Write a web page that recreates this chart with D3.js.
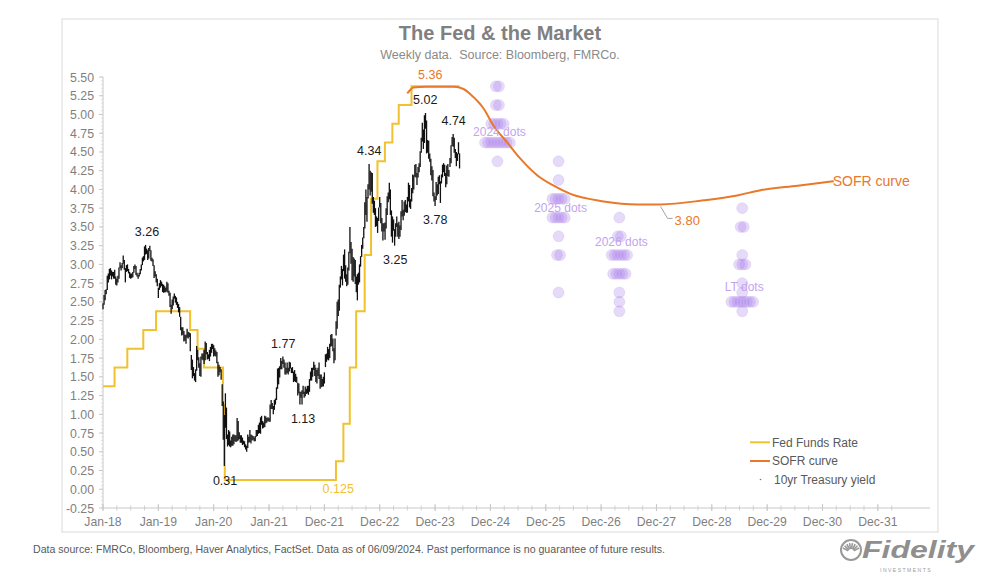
<!DOCTYPE html>
<html><head><meta charset="utf-8">
<script src="https://cdn.jsdelivr.net/npm/d3@7/dist/d3.min.js"></script>
<style>
html,body{margin:0;padding:0;background:#fff;}
svg{display:block;font-family:"Liberation Sans",Arial,Helvetica,sans-serif;}
</style></head><body>
<svg id="chart" width="1000" height="578"></svg>
<script>
// ---------------- DATA ----------------
// 10yr Treasury yield, weekly [low, high], weeks ending on Fridays starting 2018-01-05
const tenYrFirstWeek = "2018-01-05";
const tenYr2018 = [[2.40,2.48],[2.46,2.59],[2.52,2.66],[2.60,2.67],[2.66,2.85],[2.76,2.88],[2.80,2.94],[2.85,2.95],[2.80,2.92],[2.84,2.90],[2.81,2.90],[2.81,2.93],[2.73,2.84],[2.72,2.81],[2.76,2.85],[2.81,2.96],[2.95,3.03],[2.92,2.99],[2.95,3.02],[3.01,3.12],[2.93,3.06],[2.76,2.95],[2.90,2.99],[2.91,3.00],[2.88,2.94],[2.82,2.90],[2.81,2.88],[2.82,2.88],[2.83,2.90],[2.89,2.98],[2.94,3.00],[2.86,2.98],[2.84,2.89],[2.81,2.86],[2.84,2.89],[2.87,2.94],[2.92,3.00],[2.99,3.09],[3.04,3.11],[3.06,3.24],[3.13,3.26],[3.14,3.21],[3.06,3.19],[3.08,3.22],[3.18,3.25],[3.05,3.19],[3.04,3.09],[2.98,3.07],[2.82,2.99],[2.84,2.91],[2.76,2.87],[2.71,2.81]];
const tenYr2019 = [[2.55,2.69],[2.66,2.75],[2.69,2.79],[2.71,2.77],[2.63,2.74],[2.62,2.73],[2.63,2.71],[2.63,2.69],[2.64,2.77],[2.62,2.75],[2.58,2.65],[2.43,2.62],[2.34,2.46],[2.40,2.53],[2.45,2.57],[2.54,2.61],[2.49,2.58],[2.46,2.56],[2.42,2.50],[2.36,2.47],[2.30,2.43],[2.12,2.30],[2.05,2.16],[2.06,2.16],[1.97,2.11],[1.98,2.06],[1.94,2.06],[2.02,2.14],[2.01,2.10],[2.03,2.09],[1.84,2.08],[1.59,1.79],[1.48,1.73],[1.51,1.63],[1.45,1.55],[1.43,1.60],[1.58,1.91],[1.72,1.86],[1.62,1.76],[1.51,1.68],[1.50,1.77],[1.73,1.81],[1.72,1.81],[1.67,1.86],[1.72,1.97],[1.80,1.95],[1.73,1.83],[1.74,1.80],[1.71,1.86],[1.77,1.90],[1.82,1.94],[1.87,1.94]];
const tenYr2020 = [[1.77,1.92],[1.78,1.88],[1.77,1.85],[1.68,1.83],[1.50,1.70],[1.52,1.66],[1.56,1.63],[1.46,1.60],[1.11,1.40],[0.66,1.17],[0.31,0.99],[0.82,1.28],[0.67,1.09],[0.57,0.73],[0.59,0.79],[0.57,0.77],[0.56,0.65],[0.58,0.70],[0.58,0.73],[0.60,0.73],[0.64,0.72],[0.63,0.72],[0.64,0.95],[0.65,0.91],[0.67,0.76],[0.62,0.72],[0.62,0.72],[0.59,0.69],[0.60,0.65],[0.56,0.64],[0.53,0.60],[0.50,0.58],[0.55,0.73],[0.62,0.70],[0.63,0.79],[0.61,0.73],[0.65,0.72],[0.66,0.71],[0.64,0.69],[0.64,0.71],[0.70,0.79],[0.71,0.79],[0.74,0.86],[0.75,0.89],[0.74,0.96],[0.86,0.98],[0.81,0.91],[0.82,0.89],[0.83,0.98],[0.88,0.97],[0.89,0.95],[0.91,0.96]];
const tenYr2021 = [[0.90,0.95],[0.90,1.13],[1.07,1.19],[1.07,1.15],[1.00,1.11],[1.06,1.19],[1.13,1.21],[1.19,1.36],[1.34,1.61],[1.40,1.62],[1.49,1.64],[1.60,1.75],[1.60,1.71],[1.67,1.77],[1.62,1.73],[1.53,1.69],[1.53,1.62],[1.55,1.69],[1.53,1.62],[1.57,1.70],[1.61,1.69],[1.55,1.62],[1.55,1.63],[1.43,1.57],[1.44,1.59],[1.43,1.54],[1.42,1.50],[1.25,1.42],[1.28,1.41],[1.13,1.30],[1.22,1.30],[1.13,1.32],[1.27,1.38],[1.22,1.30],[1.24,1.37],[1.27,1.34],[1.28,1.38],[1.26,1.38],[1.30,1.47],[1.45,1.57],[1.45,1.62],[1.50,1.62],[1.59,1.70],[1.51,1.66],[1.43,1.62],[1.41,1.59],[1.51,1.62],[1.47,1.69],[1.34,1.53],[1.36,1.53],[1.37,1.47],[1.37,1.50],[1.41,1.56]];
const tenYr2022 = [[1.63,1.80],[1.70,1.81],[1.73,1.90],[1.72,1.87],[1.75,1.94],[1.90,2.06],[1.91,2.07],[1.84,2.01],[1.68,1.88],[1.72,2.01],[2.05,2.24],[2.14,2.50],[2.31,2.53],[2.38,2.73],[2.69,2.84],[2.80,2.98],[2.72,2.94],[2.91,3.13],[2.81,3.20],[2.77,2.99],[2.71,2.87],[2.73,2.96],[2.92,3.17],[3.15,3.50],[3.01,3.30],[2.79,3.21],[2.77,3.10],[2.84,3.08],[2.74,3.06],[2.63,2.84],[2.52,2.87],[2.73,2.89],[2.76,3.00],[2.97,3.11],[3.10,3.26],[3.21,3.36],[3.35,3.50],[3.48,3.83],[3.66,4.00],[3.57,3.90],[3.88,4.07],[4.00,4.34],[3.92,4.25],[3.97,4.23],[3.81,4.22],[3.69,3.90],[3.66,3.85],[3.50,3.75],[3.51,3.64],[3.42,3.62],[3.58,3.76],[3.76,3.90]];
const tenYr2023 = [[3.55,3.82],[3.44,3.62],[3.32,3.55],[3.44,3.55],[3.33,3.56],[3.48,3.75],[3.66,3.91],[3.83,3.96],[3.87,4.09],[3.66,4.00],[3.37,3.72],[3.29,3.64],[3.45,3.60],[3.25,3.47],[3.37,3.55],[3.50,3.64],[3.37,3.55],[3.34,3.57],[3.37,3.52],[3.46,3.71],[3.64,3.86],[3.59,3.73],[3.65,3.84],[3.70,3.86],[3.69,3.80],[3.69,3.90],[3.84,4.09],[3.76,4.06],[3.74,3.87],[3.84,4.02],[3.95,4.20],[4.00,4.19],[4.17,4.33],[4.16,4.34],[4.06,4.22],[4.16,4.30],[4.23,4.35],[4.30,4.51],[4.49,4.69],[4.64,4.89],[4.54,4.80],[4.62,4.99],[4.81,5.02],[4.48,4.92],[4.49,4.66],[4.41,4.65],[4.37,4.48],[4.19,4.41],[4.12,4.31],[3.91,4.26],[3.84,3.96],[3.78,3.91]];
const tenYr2024 = [[3.86,4.10],[3.92,4.07],[3.94,4.17],[4.07,4.19],[3.82,4.11],[4.08,4.20],[4.16,4.33],[4.23,4.35],[4.18,4.33],[4.03,4.22],[4.07,4.32],[4.18,4.34],[4.17,4.26],[4.30,4.42],[4.35,4.59],[4.58,4.70],[4.57,4.74],[4.49,4.69],[4.42,4.54],[4.31,4.50],[4.38,4.48],[4.47,4.63],[4.28,4.48]];

// Fed Funds Rate (midpoint of target range), step changes
const fedDates  = ["2018-01-05","2018-03-22","2018-06-14","2018-09-27","2018-12-20","2019-08-01","2019-09-19","2019-10-31","2020-03-04","2020-03-16","2022-03-17","2022-05-05","2022-06-16","2022-07-28","2022-09-22","2022-11-03","2022-12-15","2023-02-02","2023-03-23","2023-05-04","2023-07-27","2024-06-07"];
const fedValues = [1.375,1.625,1.875,2.125,2.375,2.125,1.875,1.625,1.125,0.125,0.375,0.875,1.625,2.375,3.125,3.875,4.375,4.625,4.875,5.125,5.375,5.375];

// SOFR curve
const sofrDates  = ["2023-06-29","2023-07-20","2023-08-08","2023-11-01","2024-02-01","2024-05-01","2024-07-03","2024-08-17","2024-11-12","2025-01-17","2025-04-15","2025-07-12","2025-10-30","2026-02-16","2026-06-06","2027-01-11","2027-08-19","2028-01-20","2028-10-30","2029-06-07","2029-11-08","2030-07-10","2031-03-04"];
const sofrValues = [5.28,5.33,5.36,5.37,5.37,5.37,5.34,5.27,5.08,4.85,4.63,4.41,4.19,4.05,3.94,3.84,3.80,3.80,3.855,3.92,3.99,4.05,4.11];

// FOMC dots: [rate, number of dots]
const dotColumnNames = ["2024 dots","2025 dots","2026 dots","LT dots"];
const dotColumnDates = ["2025-02-11","2026-03-20","2027-04-24","2029-07-10"];
const dots2024 = [[5.375,2],[5.125,2],[4.875,5],[4.625,9],[4.375,1]];
const dots2025 = [[4.375,1],[4.125,1],[3.875,5],[3.625,5],[3.375,1],[3.125,2],[2.625,1]];
const dots2026 = [[3.625,1],[3.375,2],[3.125,6],[2.875,5],[2.625,1],[2.5,1],[2.375,1]];
const dotsLT   = [[3.75,1],[3.5,2],[3.125,1],[3.0,3],[2.75,1],[2.625,1],[2.5,8],[2.375,1]];

// Annotations on the 10yr line
const annoTexts  = ["3.26","1.77","1.13","0.31","4.34","3.25","5.02","3.78","4.74"];
const annoDates  = ["2018-10-21","2021-04-04","2021-08-13","2020-03-18","2022-10-22","2023-04-11","2023-10-25","2023-12-30","2024-04-29"];
const annoValues = [3.26,1.77,1.13,0.31,4.34,3.25,5.02,3.78,4.74];

// Axis ticks
const xTickDates  = ["2018-01-05","2019-01-04","2020-01-03","2021-01-01","2021-12-31","2022-12-30","2023-12-29","2024-12-27","2025-12-26","2026-12-25","2027-12-24","2028-12-22","2029-12-21","2030-12-20","2031-12-19"];
const xTickLabels = ["Jan-18","Jan-19","Jan-20","Jan-21","Dec-21","Dec-22","Dec-23","Dec-24","Dec-25","Dec-26","Dec-27","Dec-28","Dec-29","Dec-30","Dec-31"];
const yTickValues = [-0.25,0,0.25,0.5,0.75,1,1.25,1.5,1.75,2,2.25,2.5,2.75,3,3.25,3.5,3.75,4,4.25,4.5,4.75,5,5.25,5.5];
const yTickLabels = ["-0.25","0.00","0.25","0.50","0.75","1.00","1.25","1.50","1.75","2.00","2.25","2.50","2.75","3.00","3.25","3.50","3.75","4.00","4.25","4.50","4.75","5.00","5.25","5.50"];

const legendLabels = ["Fed Funds Rate","SOFR curve","10yr Treasury yield"];

// ---------------- DRAWING ----------------
const parse = d3.timeParse("%Y-%m-%d");
const svg = d3.select("#chart");
const C = {yellow:"#f2c12e", orange:"#e8782a", black:"#111", grey:"#7f7f7f", axis:"#c8c8c8", dot:"#a57ae8", dotText:"#c2a4ef"};

const x = d3.scaleTime().domain([parse("2018-01-05"), parse("2032-11-26")]).range([103, 930]);
const y = d3.scaleLinear().domain([-0.25, 5.5]).range([508, 77]);

// frame
svg.append("rect").attr("x",62).attr("y",19).attr("width",876).attr("height",513)
  .attr("fill","none").attr("stroke","#e6e6e6").attr("stroke-width",1.5);

// title
svg.append("text").attr("x",500).attr("y",40).attr("text-anchor","middle")
  .attr("font-size",20).attr("font-weight","bold").attr("fill","#808080").text("The Fed & the Market");
svg.append("text").attr("x",500).attr("y",58.5).attr("text-anchor","middle")
  .attr("font-size",12.5).attr("fill","#8a8a8a").attr("xml:space","preserve").text("Weekly data.  Source: Bloomberg, FMRCo.");

// y axis
const gy = svg.append("g");
gy.append("line").attr("x1",103).attr("x2",103).attr("y1",y(5.5)).attr("y2",y(-0.25)).attr("stroke",C.axis);
const minorY = d3.range(-0.25, 5.5001, 0.05);
gy.selectAll(".ym").data(minorY).join("line").attr("x1",101).attr("x2",103)
  .attr("y1",d=>y(d)).attr("y2",d=>y(d)).attr("stroke","#d6d6d6").attr("stroke-width",0.7);
gy.selectAll(".yt").data(yTickValues).join("line").attr("x1",99).attr("x2",103)
  .attr("y1",d=>y(d)).attr("y2",d=>y(d)).attr("stroke",C.axis);
gy.selectAll(".yl").data(yTickValues).join("text").attr("x",94).attr("y",d=>y(d)+4.5)
  .attr("text-anchor","end").attr("font-size",12.3).attr("fill",C.grey).text((d,i)=>yTickLabels[i]);

// x axis
const gx = svg.append("g");
const xAxisY = y(-0.25);
gx.append("line").attr("x1",103).attr("x2",930).attr("y1",xAxisY).attr("y2",xAxisY).attr("stroke",C.axis);
const minorXd = [];
for (let i=0;i<58;i++) minorXd.push(d3.timeWeek.offset(parse("2018-01-05"), 13*i));
gx.selectAll(".xm").data(minorXd).join("line").attr("x1",d=>x(d)).attr("x2",d=>x(d))
  .attr("y1",xAxisY-2.5).attr("y2",xAxisY+2.5).attr("stroke",C.axis).attr("stroke-width",0.8);
gx.selectAll(".xt").data(xTickDates).join("line").attr("x1",d=>x(parse(d))).attr("x2",d=>x(parse(d)))
  .attr("y1",xAxisY-4).attr("y2",xAxisY+3).attr("stroke",C.axis);
gx.selectAll(".xl").data(xTickDates).join("text").attr("x",d=>x(parse(d))).attr("y",526)
  .attr("text-anchor","middle").attr("font-size",12.2).attr("fill",C.grey).text((d,i)=>xTickLabels[i]);

// dots
const dotSets = [dots2024, dots2025, dots2026, dotsLT];
const dotPts = [];
dotSets.forEach((set,ci)=>{
  const cx = x(parse(dotColumnDates[ci]));
  set.forEach(([v,n])=>{
    for (let k=0;k<n;k++) dotPts.push({x: cx + (k-(n-1)/2)*3.1, v});
  });
});
svg.append("g").selectAll("circle").data(dotPts).join("circle")
  .attr("cx",d=>d.x).attr("cy",d=>y(d.v)).attr("r",5.5)
  .attr("fill",C.dot).attr("fill-opacity",0.28).attr("stroke",C.dot).attr("stroke-opacity",0.2).attr("stroke-width",0.8);

// Fed funds step line
const fedData = fedDates.map((d,i)=>({d:parse(d), v:fedValues[i]}));
svg.append("path").datum(fedData)
  .attr("d", d3.line().x(d=>x(d.d)).y(d=>y(d.v)).curve(d3.curveStepAfter))
  .attr("fill","none").attr("stroke",C.yellow).attr("stroke-width",2);

// 10yr weekly high-low bars
const tenYr = [].concat(tenYr2018, tenYr2019, tenYr2020, tenYr2021, tenYr2022, tenYr2023, tenYr2024);
const start = parse(tenYrFirstWeek);
const tyData = tenYr.map((r,i)=>({d:d3.timeWeek.offset(start,i), lo:r[0], hi:r[1]}));
svg.append("g").selectAll("line").data(tyData).join("line")
  .attr("x1",d=>x(d.d)).attr("x2",d=>x(d.d)).attr("y1",d=>y(d.lo)).attr("y2",d=>y(d.hi))
  .attr("stroke",C.black).attr("stroke-width",1.3);

// SOFR curve
const sofrData = sofrDates.map((d,i)=>({d:parse(d), v:sofrValues[i]}));
svg.append("path").datum(sofrData)
  .attr("d", d3.line().x(d=>x(d.d)).y(d=>y(d.v)).curve(d3.curveMonotoneX))
  .attr("fill","none").attr("stroke",C.orange).attr("stroke-width",2);

// dot labels
const dotLabelLevels = [4.77, 3.76, 3.30, 2.70];
dotColumnNames.forEach((t,i)=>{
  svg.append("text").attr("x", x(parse(dotColumnDates[i]))+2).attr("y", y(dotLabelLevels[i])+4.5)
    .attr("text-anchor","middle").attr("font-size",12).attr("fill",C.dotText).text(t);
});

// annotations
const annoBelow = [false,false,true,true,false,true,false,true,false];
annoTexts.forEach((t,i)=>{
  svg.append("text").attr("x", x(parse(annoDates[i])))
    .attr("y", y(annoValues[i]) + (annoBelow[i] ? 18.5 : -9))
    .attr("text-anchor","middle").attr("font-size",12.5).attr("fill","#1a1a1a").text(t);
});
// 5.36 (SOFR peak)
svg.append("text").attr("x", x(parse("2023-11-27"))).attr("y", y(5.36)-8)
  .attr("text-anchor","middle").attr("font-size",12.5).attr("fill",C.orange).text("5.36");
// 0.125 (Fed funds floor)
svg.append("text").attr("x", x(parse("2022-04-01"))).attr("y", y(0.125)+13.5)
  .attr("text-anchor","middle").attr("font-size",12.5).attr("fill",C.yellow).text("0.125");
// 3.80 with leader
const p380x = x(parse("2028-01-20")), p380y = y(3.80);
svg.append("polyline").attr("points", `${p380x},${p380y+2} ${p380x+7},${p380y+14} ${p380x+12},${p380y+14}`)
  .attr("fill","none").attr("stroke","#a6a6a6").attr("stroke-width",1);
svg.append("text").attr("x", p380x+14).attr("y", p380y+21)
  .attr("font-size",13).attr("fill",C.orange).text("3.80");
// SOFR curve end label
const lastS = sofrData[sofrData.length-1];
svg.append("text").attr("x", x(lastS.d)-1).attr("y", y(lastS.v)+5)
  .attr("font-size",14).attr("fill",C.orange).text("SOFR curve");

// legend
const lg = svg.append("g");
const legY = [442.3, 461, 479.5];
lg.append("line").attr("x1",750).attr("x2",770).attr("y1",legY[0]).attr("y2",legY[0]).attr("stroke",C.yellow).attr("stroke-width",2);
lg.append("line").attr("x1",750).attr("x2",770).attr("y1",legY[1]).attr("y2",legY[1]).attr("stroke",C.orange).attr("stroke-width",2);
lg.append("circle").attr("cx",760.5).attr("cy",legY[2]).attr("r",0.8).attr("fill","#777");
legendLabels.forEach((t,i)=>{
  lg.append("text").attr("x", i<2 ? 772 : 774).attr("y", legY[i]+4.3).attr("font-size",12)
    .attr("fill","#595959").text(t);
});

// footer
svg.append("text").attr("x",33).attr("y",553).attr("font-size",11.5).attr("fill","#595959")
  .attr("font-family","'Liberation Sans Narrow','Liberation Sans',Arial,sans-serif")
  .attr("textLength",632).attr("lengthAdjust","spacingAndGlyphs")
  .text("Data source: FMRCo, Bloomberg, Haver Analytics, FactSet. Data as of 06/09/2024. Past performance is no guarantee of future results.");

// Fidelity logo
const logo = svg.append("g").attr("fill","#8c8c8c");
logo.append("circle").attr("cx",851).attr("cy",550).attr("r",10).attr("fill","none").attr("stroke","#9a9a9a").attr("stroke-width",2);
d3.range(8).forEach(k=>{
  const a = -Math.PI/2 + (k-3.5)*0.32;
  logo.append("line").attr("x1",851+Math.cos(a)*3).attr("y1",552+Math.sin(a)*3)
    .attr("x2",851+Math.cos(a)*9).attr("y2",552+Math.sin(a)*9).attr("stroke","#9a9a9a").attr("stroke-width",1.6);
});
logo.append("text").attr("x",862).attr("y",558).attr("font-size",24).attr("font-weight","bold").attr("font-style","italic")
  .attr("textLength",112).attr("lengthAdjust","spacingAndGlyphs").attr("fill","#8f8f8f").text("Fidelity");
logo.append("text").attr("x",880).attr("y",572).attr("font-size",5).attr("letter-spacing",1.5)
  .attr("fill","#9a9a9a").text("INVESTMENTS");
</script></body></html>
